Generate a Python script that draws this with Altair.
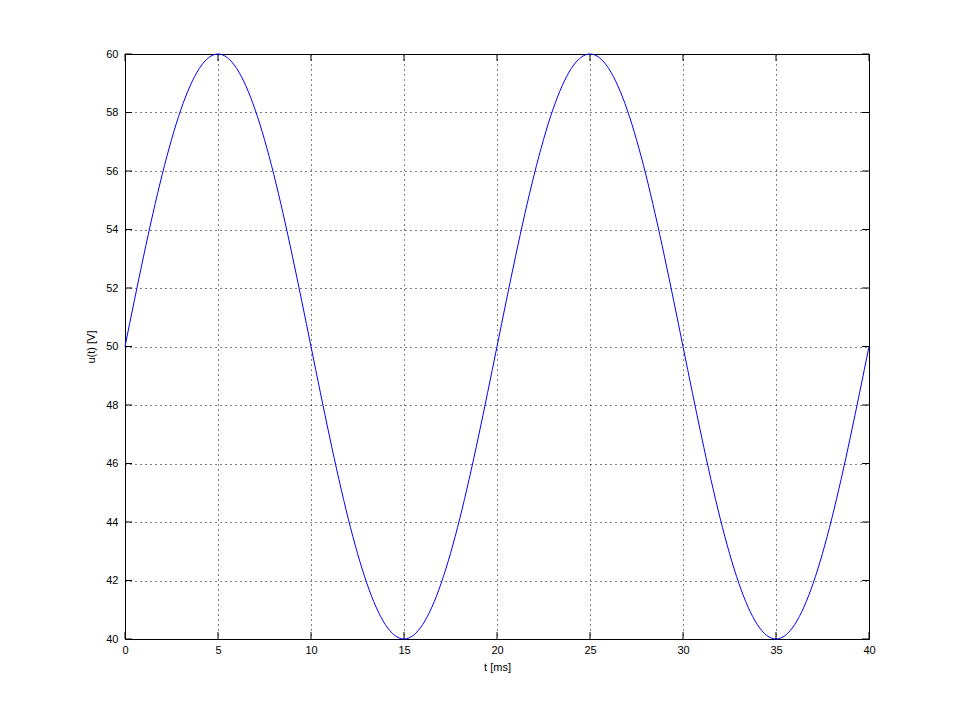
import altair as alt
import pandas as pd

t_ms = list(range(0, 41))
u_volts = [50.0, 53.09, 55.88, 58.09, 59.51, 60.0, 59.51, 58.09, 55.88, 53.09,
           50.0, 46.91, 44.12, 41.91, 40.49, 40.0, 40.49, 41.91, 44.12, 46.91,
           50.0, 53.09, 55.88, 58.09, 59.51, 60.0, 59.51, 58.09, 55.88, 53.09,
           50.0, 46.91, 44.12, 41.91, 40.49, 40.0, 40.49, 41.91, 44.12, 46.91,
           50.0]
x_ticks = [0, 5, 10, 15, 20, 25, 30, 35, 40]
y_ticks = [40, 42, 44, 46, 48, 50, 52, 54, 56, 58, 60]

W, H = 744, 585
FONT = "Liberation Sans"

df = pd.DataFrame({"t": t_ms, "u": u_volts})
dfx = pd.DataFrame({"v": x_ticks})
dfy = pd.DataFrame({"v": y_ticks})

xscale = alt.Scale(domain=[0, 40], nice=False, zero=False)
yscale = alt.Scale(domain=[40, 60], nice=False, zero=False)

xaxis = alt.Axis(values=x_ticks, title="t [ms]", grid=True, gridColor="black",
                 gridDash=[1, 4], gridOpacity=1, gridWidth=1, domain=False, ticks=False,
                 labelFont=FONT, labelFontSize=11, labelColor="black", labelPadding=5,
                 titleFont=FONT, titleFontSize=11, titleFontWeight="normal",
                 titleColor="black", titlePadding=6, labelFlush=False)
yaxis = alt.Axis(values=y_ticks, title="u(t) [V]", grid=True, gridColor="black",
                 gridDash=[1, 4], gridOpacity=1, gridWidth=1, domain=False, ticks=False,
                 labelFont=FONT, labelFontSize=11, labelColor="black", labelPadding=7,
                 titleFont=FONT, titleFontSize=11, titleFontWeight="normal",
                 titleColor="black", titlePadding=9, labelFlush=False)

line = alt.Chart(df).mark_line(color="#0000ff", strokeWidth=1, interpolate="natural").encode(
    x=alt.X("t:Q", scale=xscale, axis=xaxis),
    y=alt.Y("u:Q", scale=yscale, axis=yaxis),
)

tick_len = 7
yt_left = alt.Chart(dfy).mark_rule(color="black", strokeWidth=1).encode(
    y=alt.Y("v:Q", scale=yscale), x=alt.value(0), x2=alt.value(tick_len))
yt_right = alt.Chart(dfy).mark_rule(color="black", strokeWidth=1).encode(
    y=alt.Y("v:Q", scale=yscale), x=alt.value(W), x2=alt.value(W - tick_len))
xt_bottom = alt.Chart(dfx).mark_rule(color="black", strokeWidth=1).encode(
    x=alt.X("v:Q", scale=xscale), y=alt.value(H), y2=alt.value(H - tick_len))
xt_top = alt.Chart(dfx).mark_rule(color="black", strokeWidth=1).encode(
    x=alt.X("v:Q", scale=xscale), y=alt.value(0), y2=alt.value(tick_len))

chart = alt.layer(line, yt_left, yt_right, xt_bottom, xt_top).properties(
    width=W, height=H,
    autosize=alt.AutoSizeParams(type="none"),
    padding={"left": 117, "top": 46, "right": 83, "bottom": 72},
    background="white",
).configure_view(stroke="black", strokeWidth=1)

chart.save("out.html", embed_options={"renderer": "svg", "actions": False})
